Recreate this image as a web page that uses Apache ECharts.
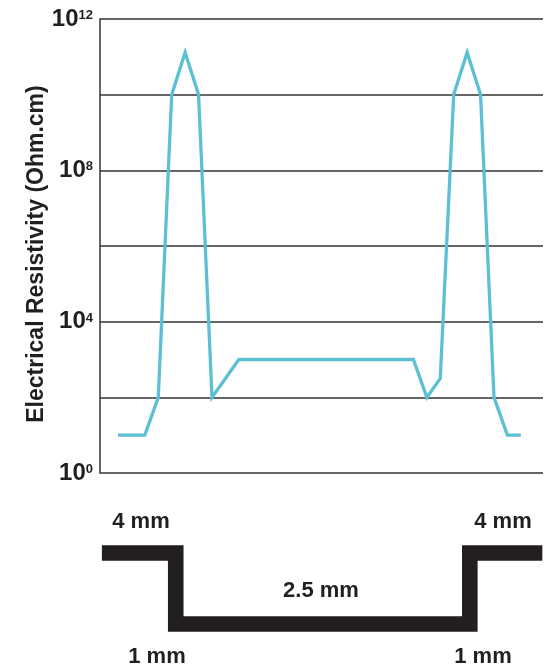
<!DOCTYPE html>
<html>
<head>
<meta charset="utf-8">
<script src="https://cdn.jsdelivr.net/npm/echarts@6/dist/echarts.min.js"></script>
<style>
  html, body { margin: 0; padding: 0; background: #ffffff; }
  #chart { width: 545px; height: 666px; }
</style>
</head>
<body>
<div id="chart"></div>
<script>
// Sample positions across the part (index along the profile)
const positions = [0, 1, 2, 3, 4, 5, 6, 7, 8, 9, 10, 11, 12, 13, 14, 15,
                   16, 17, 18, 19, 20, 21, 22, 23, 24, 25, 26, 27, 28, 29, 30];
// Electrical resistivity (Ohm.cm) at each position
const resistivity = [10, 10, 10, 100, 1e10, 1.3e11, 1e10, 100, 316, 1000,
                     1000, 1000, 1000, 1000, 1000, 1000, 1000, 1000, 1000, 1000,
                     1000, 1000, 1000, 100, 316, 1e10, 1.3e11, 1e10, 100, 10, 10];
// Y tick exponents that carry a label
const labelledExponents = [0, 4, 8, 12];
// Cross-section outline of the part (position, depth level)
const profileX = [-1.2, 4.3, 4.3, 26.2, 26.2, 31.6];
const profileDepth = [0, 0, 1, 1, 0, 0];
// Dimension labels
const dimLabels = ['4 mm', '4 mm', '2.5 mm', '1 mm', '1 mm'];

const TEXT = '#231f20';
const FONT = '"Liberation Sans", Arial, sans-serif';

const chart = echarts.init(document.getElementById('chart'), null, { renderer: 'canvas' });

const dimPos = [[141, 522], [503, 522], [321, 591], [157, 657], [483, 657]];

chart.setOption({
  backgroundColor: '#ffffff',
  animation: false,
  grid: [
    { left: 100, right: 2, top: 19, bottom: 193 },
    { left: 100, right: 2, top: 553, bottom: 42 }
  ],
  xAxis: [
    { type: 'value', gridIndex: 0, min: -1.34, max: 31.65, show: false },
    { type: 'value', gridIndex: 1, min: -1.34, max: 31.65, show: false }
  ],
  yAxis: [
    {
      type: 'log', gridIndex: 0, logBase: 10, min: 1, max: 1e12, interval: 2,
      name: 'Electrical Resistivity (Ohm.cm)',
      nameLocation: 'middle', nameRotate: 90, nameGap: 52, nameMoveOverlap: false,
      nameTextStyle: { fontFamily: FONT, fontWeight: 'bold', fontSize: 23, color: TEXT, padding: [0, 16, 0, 0] },
      axisLine: { show: true, onZero: false, lineStyle: { color: '#333333', width: 1.5 } },
      axisTick: { show: false },
      splitLine: { show: true, lineStyle: { color: '#333333', width: 1.5 } },
      axisLabel: {
        margin: 7,
        formatter: function (v) {
          const e = Math.round(Math.log10(v));
          if (labelledExponents.indexOf(e) < 0) return '';
          return '{b|10}{s|' + e + '}';
        },
        rich: {
          b: { fontFamily: FONT, fontWeight: 'bold', fontSize: 24, color: TEXT, lineHeight: 24 },
          s: { fontFamily: FONT, fontWeight: 'bold', fontSize: 13, color: TEXT, lineHeight: 24, verticalAlign: 'top', padding: [2, 0, 0, 0] }
        }
      }
    },
    { type: 'value', gridIndex: 1, min: 0, max: 1, inverse: true, show: false }
  ],
  series: [
    {
      type: 'line',
      xAxisIndex: 0, yAxisIndex: 0,
      data: positions.map((p, i) => [p, resistivity[i]]),
      showSymbol: false,
      symbol: 'none',
      lineStyle: { color: '#5BC0D2', width: 3.3, join: 'miter' },
      z: 5
    },
    {
      type: 'line',
      xAxisIndex: 1, yAxisIndex: 1,
      data: profileX.map((p, i) => [p, profileDepth[i]]),
      symbol: 'none',
      clip: false,
      lineStyle: { color: TEXT, width: 15.6, join: 'miter', cap: 'butt' }
    }
  ],
  graphic: dimLabels.map((t, i) => ({
    type: 'text',
    x: dimPos[i][0], y: dimPos[i][1],
    style: {
      text: t, fill: TEXT, fontFamily: FONT, fontWeight: 'bold', fontSize: 22,
      align: 'center', verticalAlign: 'middle'
    }
  }))
});
</script>
</body>
</html>
